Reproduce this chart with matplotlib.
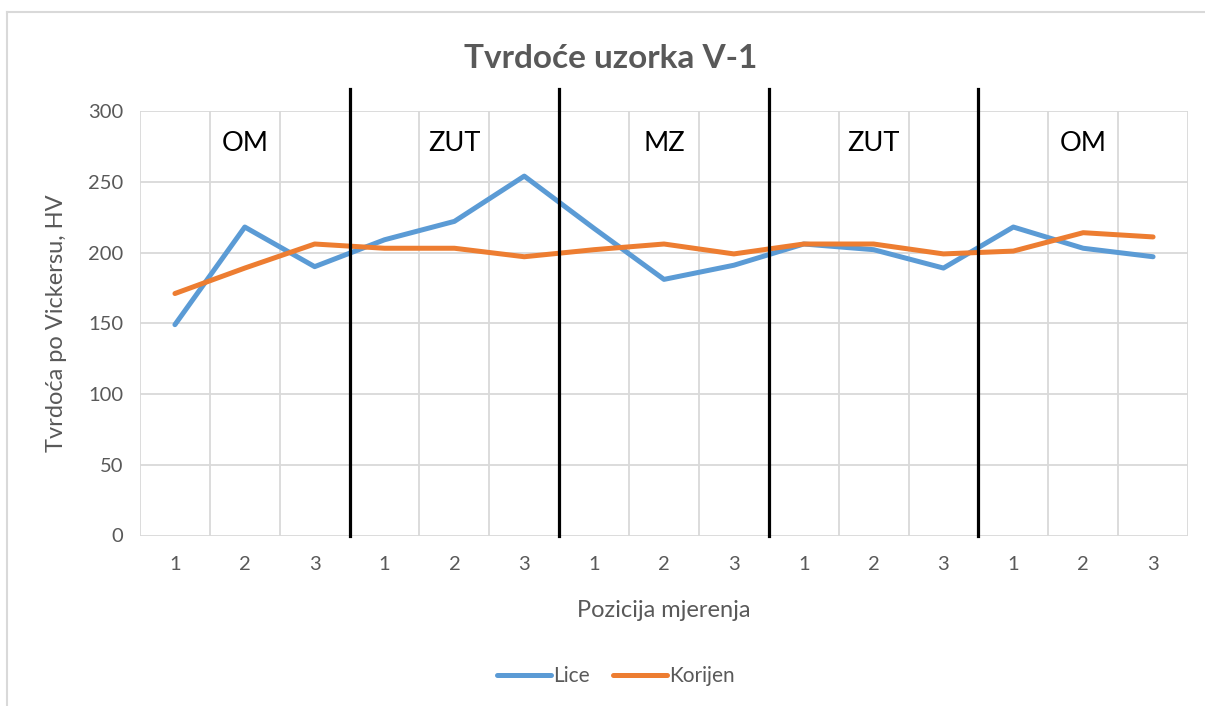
import matplotlib
matplotlib.use("Agg")
import matplotlib.pyplot as plt
from matplotlib.lines import Line2D

# Hardness measurements (HV) along the specimen cross-section
positions = ["1", "2", "3"] * 5
lice = [149, 218, 190, 209, 222, 254, 217, 181, 191, 206, 202, 189, 218, 203, 197]
korijen = [171, 189, 206, 203, 203, 197, 202, 206, 199, 206, 206, 199, 201, 214, 211]

zones = ["OM", "ZUT", "MZ", "ZUT", "OM"]
zone_centers = [1, 4, 7, 10, 13]
zone_bounds = [2.5, 5.5, 8.5, 11.5]

y_ticks = [0, 50, 100, 150, 200, 250, 300]

title = "Tvrdoće uzorka V-1"
x_title = "Pozicija mjerenja"
y_title = "Tvrdoća po Vickersu, HV"

plt.rcParams["font.family"] = ["Lato", "DejaVu Sans"]

GRAY_TXT = "#595959"
GRID = "#d9d9d9"
BLUE = "#5B9BD5"
ORANGE = "#ED7D31"

W, H = 1205, 706
fig = plt.figure(figsize=(W / 100, H / 100), dpi=100)

# chart frame (left and top edges)
fig.add_artist(Line2D([7 / W, 7 / W], [0, 1 - 12 / H], color=GRID, lw=1.5,
                      transform=fig.transFigure))
fig.add_artist(Line2D([7 / W, 1], [1 - 12 / H, 1 - 12 / H], color=GRID, lw=1.5,
                      transform=fig.transFigure))

left, right, top, bottom = 140, 1188, 111, 535.5
ax = fig.add_axes([left / W, (H - bottom) / H, (right - left) / W, (bottom - top) / H])

x = list(range(len(positions)))
ax.plot(x, lice, color=BLUE, lw=3.6, solid_capstyle="round",
        solid_joinstyle="round", label="Lice", zorder=3)
ax.plot(x, korijen, color=ORANGE, lw=3.6, solid_capstyle="round",
        solid_joinstyle="round", label="Korijen", zorder=3)

ax.set_xlim(-0.5, len(positions) - 0.5)
ax.set_ylim(0, 300)
ax.set_yticks(y_ticks)
ax.set_xticks(x)
ax.set_xticklabels(positions)
ax.set_xticks([i - 0.5 for i in range(len(positions) + 1)], minor=True)

ax.grid(axis="y", which="major", color=GRID, lw=1.3)
ax.grid(axis="x", which="minor", color=GRID, lw=1.3)
ax.grid(axis="x", which="major", visible=False)
ax.set_axisbelow(True)
for s in ax.spines.values():
    s.set_visible(False)
ax.tick_params(axis="both", which="both", length=0, colors=GRAY_TXT, labelsize=14.5)
ax.tick_params(axis="x", pad=15)
ax.tick_params(axis="y", pad=12)

# zone separators
for xb in zone_bounds:
    ax.axvline(xb, ymin=0, ymax=1.052, color="black", lw=2.3, clip_on=False, zorder=5)

for xc, name in zip(zone_centers, zones):
    ax.text(xc, 277, name, ha="center", va="center", fontsize=19.5, color="black")

ax.set_xlabel(x_title, fontsize=17, color=GRAY_TXT, labelpad=19)
ax.set_ylabel(y_title, fontsize=17, color=GRAY_TXT, labelpad=15)

fig.text(611 / W, 1 - 58 / H, title, ha="center", va="center", fontsize=24,
         fontweight="bold", color=GRAY_TXT)

leg = fig.legend(loc="center", bbox_to_anchor=(616 / W, 1 - 676 / H), ncol=2,
                 frameon=False, fontsize=15, handlelength=2.6, handletextpad=0.1,
                 columnspacing=1.1)
for t in leg.get_texts():
    t.set_color(GRAY_TXT)
for h in leg.get_lines():
    h.set_linewidth(3.6)
    h.set_solid_capstyle("round")

fig.savefig("out.png", dpi=100)
